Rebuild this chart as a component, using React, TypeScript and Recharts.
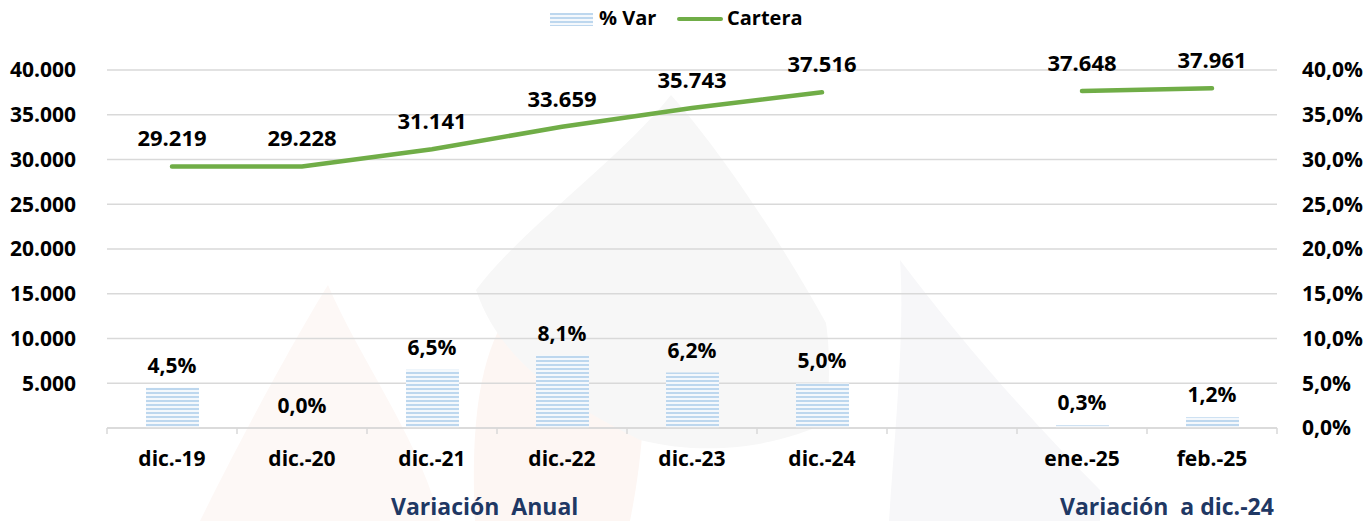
import React from 'react';
import { ComposedChart, Bar, Line, XAxis, YAxis, CartesianGrid, LabelList } from 'recharts';

const categories = ['dic.-19', 'dic.-20', 'dic.-21', 'dic.-22', 'dic.-23', 'dic.-24', ' ', 'ene.-25', 'feb.-25'];
const cartera: (number | null)[] = [29219, 29228, 31141, 33659, 35743, 37516, null, 37648, 37961];
const variacion: (number | null)[] = [4.5, 0.0, 6.5, 8.1, 6.2, 5.0, null, 0.3, 1.2];
const leftTicks = [0, 5000, 10000, 15000, 20000, 25000, 30000, 35000, 40000];
const rightTicks = [0, 5, 10, 15, 20, 25, 30, 35, 40];
const legendLabels = ['% Var', 'Cartera'];
const sectionTitles = ['Variación  Anual', 'Variación  a dic.-24'];

const data = categories.map((c, i) => ({ cat: c, cartera: cartera[i], var: variacion[i] }));

const W = 1368;
const H = 521;
const LEFT_W = 107;
const RIGHT_W = 91;
const PLOT_W = W - LEFT_W - RIGHT_W;
const BAND = PLOT_W / categories.length;
const FONT = '"Open Sans", "Noto Sans", sans-serif';
const GREEN = '#70ad47';
const GRID = '#d9d9d9';
const NAVY = '#1f3864';

const fmtThousands = (v: number) => {
  const s = Math.round(v).toString();
  return s.replace(/\B(?=(\d{3})+(?!\d))/g, '.');
};
const fmtPct = (v: number) => v.toFixed(1).replace('.', ',') + '%';

const XTick = (props: any) => {
  const { x, y, payload, index } = props;
  const last = index === categories.length - 1;
  return (
    <g>
      <line x1={x - BAND / 2} x2={x - BAND / 2} y1={y} y2={y + 6} stroke={GRID} strokeWidth={1.5} />
      {last && <line x1={x + BAND / 2} x2={x + BAND / 2} y1={y} y2={y + 6} stroke={GRID} strokeWidth={1.5} />}
      <text x={x} y={y + 38} textAnchor="middle" fontFamily={FONT} fontWeight={700} fontSize={21} fill="#000">
        {payload.value}
      </text>
    </g>
  );
};

const BarLabel = (p: any) => {
  if (p.value == null) return null;
  return (
    <text x={p.x} y={p.y - 15} textAnchor="middle" fontFamily={FONT} fontWeight={700} fontSize={21} fill="#000">
      {fmtPct(p.value)}
    </text>
  );
};

const LineLabel = (p: any) => {
  if (p.value == null) return null;
  return (
    <text x={p.x} y={p.y - 20} textAnchor="middle" fontFamily={FONT} fontWeight={700} fontSize={22} fill="#000">
      {fmtThousands(p.value)}
    </text>
  );
};

const Watermark = () => (
  <svg width={W} height={H} style={{ position: 'absolute', left: 0, top: 0 }}>
    <path d="M200 521 C 250 420, 300 330, 328 285 C 360 360, 420 440, 440 521 Z" fill="#fdf8f6" />
    <path d="M475 521 C 470 420, 480 340, 520 300 L 640 300 C 650 400, 640 470, 630 521 Z" fill="#fdf6f3" />
    <path d="M671 95 C 620 160, 520 230, 476 290 C 500 360, 560 400, 640 440 C 720 460, 790 440, 826 423 C 830 380, 830 350, 826 323 C 780 240, 720 150, 671 95 Z" fill="#f7f7f7" />
    <path d="M900 260 C 905 330, 895 430, 889 521 L 1100 521 L 1100 490 C 1030 420, 960 340, 900 260 Z" fill="#f7f7f9" />
  </svg>
);

const titleStyle: React.CSSProperties = {
  position: 'absolute',
  top: 494,
  height: 24,
  fontFamily: FONT,
  fontWeight: 700,
  fontSize: 23,
  color: NAVY,
  whiteSpace: 'pre',
  lineHeight: '24px',
};

export default function App() {
  return (
    <div style={{ position: 'absolute', left: 0, top: 0, width: W, height: H, background: '#fff', overflow: 'hidden' }}>
      <Watermark />
      <div style={{ position: 'absolute', left: 0, top: 0 }}>
        <ComposedChart width={W} height={H} data={data} margin={{ top: 70, right: 0, left: 0, bottom: 0 }} barCategoryGap={0}>
          <defs>
            <pattern id="stripes" patternUnits="userSpaceOnUse" width={8} height={4}>
              <rect x={0} y={0} width={8} height={2} fill="#bdd7ee" />
              <rect x={0} y={2} width={8} height={2} fill="#f4f8fc" />
            </pattern>
          </defs>
          <CartesianGrid yAxisId="left" vertical={false} stroke={GRID} strokeWidth={1.5} />
          <XAxis
            dataKey="cat"
            height={93}
            interval={0}
            tickSize={0}
            tickMargin={0}
            tickLine={false}
            axisLine={{ stroke: GRID, strokeWidth: 1.5 }}
            tick={<XTick />}
          />
          <YAxis
            yAxisId="left"
            orientation="left"
            width={LEFT_W}
            domain={[0, 40000]}
            ticks={leftTicks}
            tickSize={0}
            tickMargin={31}
            axisLine={false}
            tickLine={false}
            tick={{ fontFamily: FONT, fontWeight: 700, fontSize: 21, fill: '#000' }}
            tickFormatter={(v: number) => (v === 0 ? '' : fmtThousands(v))}
          />
          <YAxis
            yAxisId="right"
            orientation="right"
            width={RIGHT_W}
            domain={[0, 40]}
            ticks={rightTicks}
            tickSize={0}
            tickMargin={25}
            axisLine={false}
            tickLine={false}
            tick={{ fontFamily: FONT, fontWeight: 700, fontSize: 21, fill: '#000' }}
            tickFormatter={(v: number) => fmtPct(v)}
          />
          <Bar yAxisId="right" dataKey="var" barSize={53} fill="url(#stripes)" isAnimationActive={false} />
          <Line
            yAxisId="right"
            type="linear"
            dataKey="var"
            stroke="none"
            dot={false}
            activeDot={false}
            isAnimationActive={false}
          >
            <LabelList dataKey="var" content={<BarLabel />} />
          </Line>
          <Line
            yAxisId="left"
            type="linear"
            dataKey="cartera"
            stroke={GREEN}
            strokeWidth={4.5}
            strokeLinecap="round"
            dot={false}
            activeDot={false}
            connectNulls={false}
            isAnimationActive={false}
          >
            <LabelList dataKey="cartera" content={<LineLabel />} />
          </Line>
        </ComposedChart>
      </div>
      <div style={{ position: 'absolute', left: 0, top: 0, width: W, height: 40, fontFamily: FONT, fontWeight: 700, fontSize: 20, color: '#000' }}>
        <svg width={43} height={13} style={{ position: 'absolute', left: 550, top: 13 }}>
          <defs>
            <pattern id="legstripes" patternUnits="userSpaceOnUse" width={8} height={4}>
              <rect x={0} y={0} width={8} height={2} fill="#bdd7ee" />
              <rect x={0} y={2} width={8} height={2} fill="#f4f8fc" />
            </pattern>
          </defs>
          <rect x={0} y={0} width={43} height={13} fill="url(#legstripes)" />
        </svg>
        <span style={{ position: 'absolute', left: 599, top: 4, lineHeight: '28px' }}>{legendLabels[0]}</span>
        <div style={{ position: 'absolute', left: 677, top: 17, width: 46, height: 4, background: GREEN, borderRadius: 2 }} />
        <span style={{ position: 'absolute', left: 727, top: 4, lineHeight: '28px' }}>{legendLabels[1]}</span>
      </div>
      <div style={{ ...titleStyle, left: 391 }}>{sectionTitles[0]}</div>
      <div style={{ ...titleStyle, left: 1060 }}>{sectionTitles[1]}</div>
    </div>
  );
}
